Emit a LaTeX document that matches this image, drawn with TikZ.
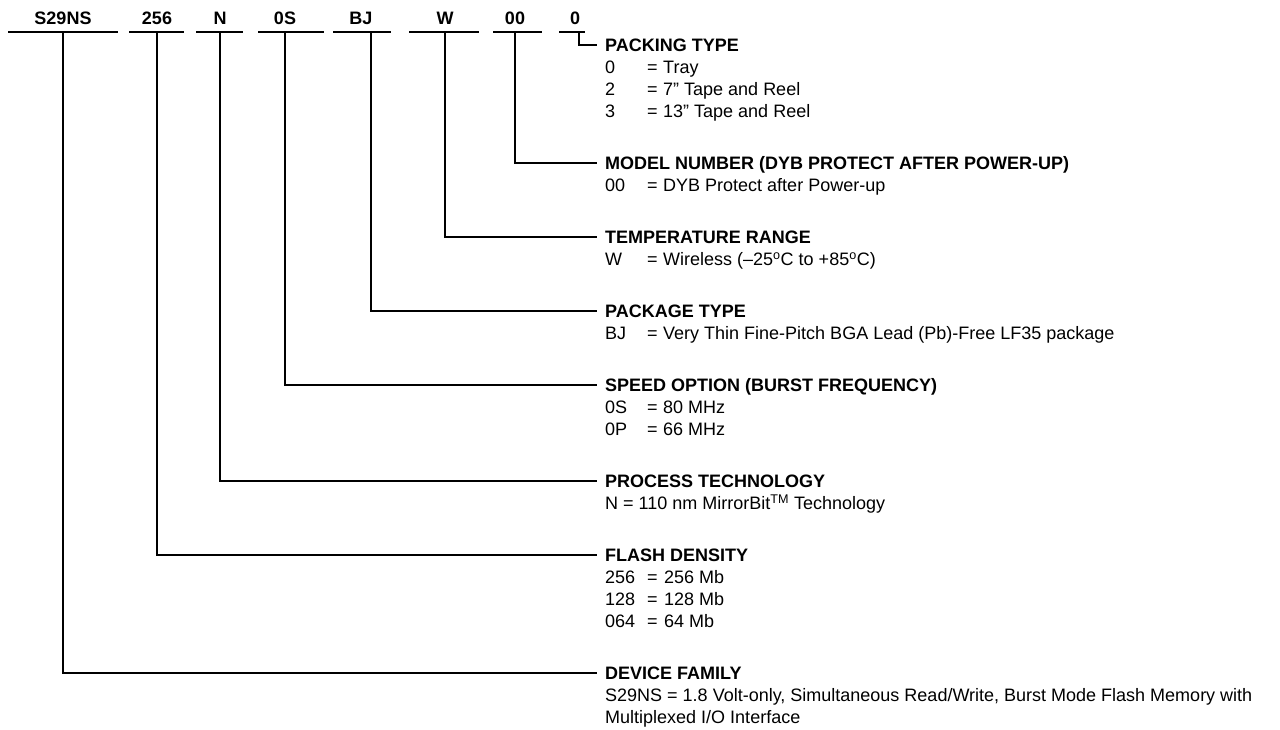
\documentclass[tikz,border=0pt]{standalone}
\usepackage{fontspec}
\setmainfont{Liberation Sans}
\newcommand{\myfs}{\fontsize{18}{21.6}\selectfont}
\begin{document}
\begin{tikzpicture}[x=1pt,y=-1pt,
  thickln/.style={line width=1.9pt},
  thinln/.style={line width=1.1pt},
  txt/.style={anchor=base west, inner sep=0pt, font=\myfs},
  head/.style={anchor=base west, inner sep=0pt, font=\myfs\bfseries},
  toplbl/.style={anchor=base, inner sep=0pt, font=\myfs\bfseries}]
\useasboundingbox (0,0) rectangle (1280,730);

% top labels
\node[toplbl] (l1) at (63,24.4) {S29NS};
\node[toplbl] (l2) at (157,24.4) {256};
\node[toplbl] (l3) at (220,24.4) {N};
\node[toplbl] (l4) at (285,24.4) {0S};
\node[toplbl] (l5) at (361,24.4) {BJ};
\node[toplbl] (l6) at (445,24.4) {W};
\node[toplbl] (l7) at (515,24.4) {00};
\node[toplbl] (l8) at (575,24.4) {0};

% underlines
\draw[thickln] (8,32) -- (118,32);
\draw[thickln] (129,32) -- (184,32);
\draw[thinln] (196,32) -- (243,32);
\draw[thinln] (258,32) -- (324,32);
\draw[thickln] (333,32) -- (391,32);
\draw[thickln] (409,32) -- (479,32);
\draw[thickln] (493,32) -- (542,32);
\draw[thickln] (559,32) -- (585,32);

% connector tops
\coordinate (t1) at (63,32);
\coordinate (t2) at (157,32);
\coordinate (t3) at (220,32);
\coordinate (t4) at (285,32);
\coordinate (t5) at (371,32);
\coordinate (t6) at (445,32);
\coordinate (t7) at (515,32);
\coordinate (t8) at (579,32);
% connector ends
\coordinate (e8) at (597,45);
\coordinate (e7) at (597,163);
\coordinate (e6) at (597,237);
\coordinate (e5) at (597,311);
\coordinate (e4) at (597,385);
\coordinate (e3) at (597,481);
\coordinate (e2) at (597,555);
\coordinate (e1) at (597,673);
\coordinate (m2) at (157,323);
\coordinate (m1) at (118,673);

\draw[thickln] (t8) |- (e8);
\draw[thickln] (t7) |- (e7);
\draw[thickln] (t6) |- (e6);
\draw[thickln] (t5) |- (e5);
\draw[thinln] (t4) |- (e4);
\draw[thinln] (t3) |- (e3);
\draw[thickln] (t2) -- (m2);
\draw[thinln] (m2) |- (e2);
\draw[thickln] (t1) |- (m1);
\draw[thinln] (m1) -- (e1);

% PACKING TYPE
\node[head] (h8) at (605,51.4) {PACKING TYPE};
\node[txt] (c8a) at (605,73.4) {0};
\node[txt] (q8a) at (647,73.4) {=};
\node[txt] (v8a) at (663,73.4) {Tray};
\node[txt] (c8b) at (605,95.4) {2};
\node[txt] (q8b) at (647,95.4) {=};
\node[txt] (v8b) at (663,95.4) {7” Tape and Reel};
\node[txt] (c8c) at (605,117.4) {3};
\node[txt] (q8c) at (647,117.4) {=};
\node[txt] (v8c) at (663,117.4) {13” Tape and Reel};

% MODEL NUMBER
\node[head] (h7) at (605,169.4) {MODEL NUMBER (DYB PROTECT AFTER POWER-UP)};
\node[txt] (c7a) at (605,191.4) {00};
\node[txt] (q7a) at (647,191.4) {=};
\node[txt] (v7a) at (663,191.4) {DYB Protect after Power-up};

% TEMPERATURE RANGE
\node[head] (h6) at (605,243.4) {TEMPERATURE RANGE};
\node[txt] (c6a) at (605,265.4) {W};
\node[txt] (q6a) at (647,265.4) {=};
\node[txt] (v6a) at (663,265.4) {Wireless (–25\textsuperscript{o}C to +85\textsuperscript{o}C)};

% PACKAGE TYPE
\node[head] (h5) at (605,317.4) {PACKAGE TYPE};
\node[txt] (c5a) at (605,339.4) {BJ};
\node[txt] (q5a) at (647,339.4) {=};
\node[txt] (v5a) at (663,339.4) {Very Thin Fine-Pitch BGA Lead (Pb)-Free LF35 package};

% SPEED OPTION
\node[head] (h4) at (605,391.4) {SPEED OPTION (BURST FREQUENCY)};
\node[txt] (c4a) at (605,413.4) {0S};
\node[txt] (q4a) at (647,413.4) {=};
\node[txt] (v4a) at (663,413.4) {80 MHz};
\node[txt] (c4b) at (605,435.4) {0P};
\node[txt] (q4b) at (647,435.4) {=};
\node[txt] (v4b) at (663,435.4) {66 MHz};

% PROCESS TECHNOLOGY
\node[head] (h3) at (605,487.4) {PROCESS TECHNOLOGY};
\node[txt] (v3a) at (605,509.4) {N = 110 nm MirrorBit\textsuperscript{TM} Technology};

% FLASH DENSITY
\node[head] (h2) at (605,561.4) {FLASH DENSITY};
\node[txt] (c2a) at (605,583.4) {256};
\node[txt] (q2a) at (647,583.4) {=};
\node[txt] (v2a) at (664,583.4) {256 Mb};
\node[txt] (c2b) at (605,605.4) {128};
\node[txt] (q2b) at (647,605.4) {=};
\node[txt] (v2b) at (664,605.4) {128 Mb};
\node[txt] (c2c) at (605,627.4) {064};
\node[txt] (q2c) at (647,627.4) {=};
\node[txt] (v2c) at (664,627.4) {64 Mb};

% DEVICE FAMILY
\node[head] (h1) at (605,679.4) {DEVICE FAMILY};
\node[txt] (v1a) at (605,701.4) {S29NS = 1.8 Volt-only, Simultaneous Read/Write, Burst Mode Flash Memory with};
\node[txt] (v1b) at (605,723.4) {Multiplexed I/O Interface};
\end{tikzpicture}
\end{document}
